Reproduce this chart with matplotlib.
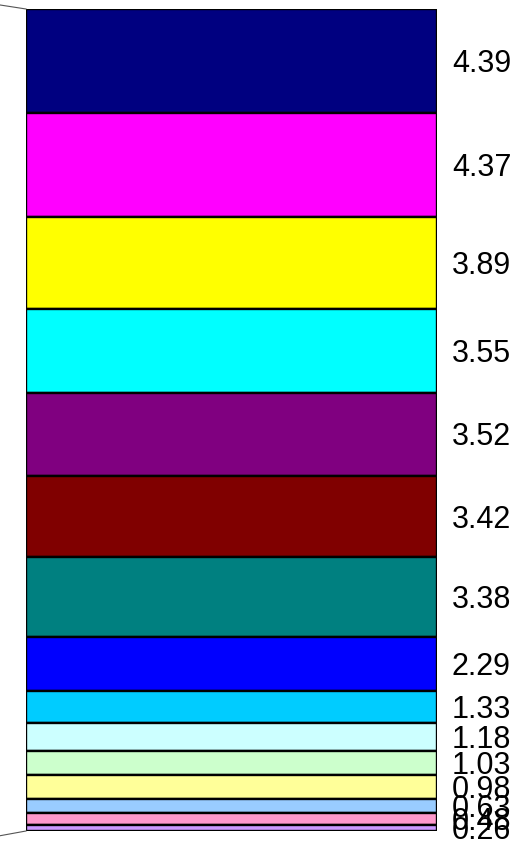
import numpy as np
import matplotlib.pyplot as plt
import matplotlib.transforms as mtransforms
from matplotlib.lines import Line2D

# segment values, top to bottom
values = [4.39, 4.37, 3.89, 3.55, 3.52, 3.42, 3.38, 2.29, 1.33, 1.18, 1.03, 0.98, 0.63, 0.48, 0.26]
labels = ["4.39", "4.37", "3.89", "3.55", "3.52", "3.42", "3.38", "2.29",
          "1.33", "1.18", "1.03", "0.98", "0.63", "0.48", "0.26"]
colors = ["#000080", "#FF00FF", "#FFFF00", "#00FFFF", "#800080", "#800000", "#008080",
          "#0000FF", "#00CCFF", "#CCFFFF", "#CCFFCC", "#FFFF99", "#99CCFF", "#FF99CC", "#CC99FF"]

plt.rcParams['font.family'] = ['Liberation Sans', 'DejaVu Sans']

W, H = 521, 844
fig = plt.figure(figsize=(W / 100, H / 100), dpi=100)
ax = fig.add_axes([26 / W, (H - 831) / H, 411 / W, 822 / H])

total = sum(values)
starts = np.concatenate([[0], np.cumsum(values)[:-1]])
ax.bar([0] * len(values), values, bottom=starts, width=1.0, color=colors,
       edgecolor="black", linewidth=1.7, align="center")

ax.set_xlim(-0.5, 0.5)
ax.set_ylim(total, 0)
ax.axis("off")

# value labels to the right of each segment, nudged down a little
trans = ax.get_yaxis_transform() + mtransforms.ScaledTranslation(0, -3 / 100, fig.dpi_scale_trans)
for s, v, lab in zip(starts, values, labels):
    ax.text(1.036, s + v / 2, lab, fontsize=22, va="center", ha="left",
            transform=trans, clip_on=False)

# connector lines going off to the (cropped) pie on the left
ax.add_line(Line2D([-0.5 - 26 / 411, -0.5], [-0.17, 0], color="#555555", lw=0.8, clip_on=False))
ax.add_line(Line2D([-0.5 - 26 / 411, -0.5], [total + 0.2, total], color="#555555", lw=0.8, clip_on=False))

fig.savefig("out.png", dpi=100)
